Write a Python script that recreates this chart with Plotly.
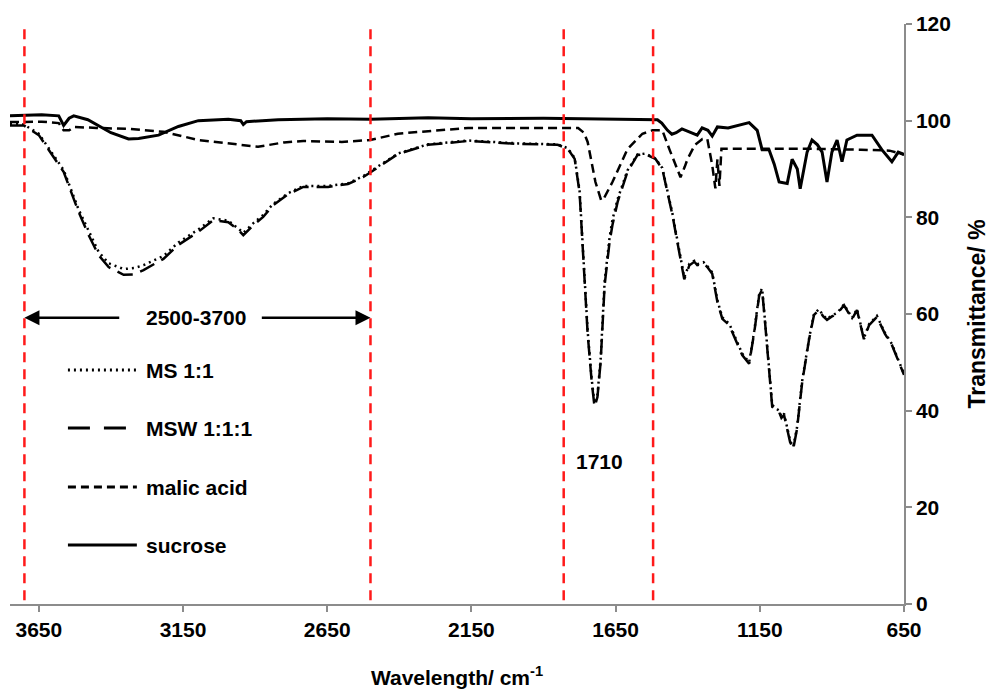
import plotly.graph_objects as go

# ---------------- data ----------------
sucrose_x = [3750, 3640, 3581, 3564, 3545, 3529, 3480, 3443, 3400, 3339, 3304, 3235, 3166, 3097,
             2993, 2950, 2941, 2930, 2820, 2650, 2500, 2300, 2150, 1900, 1600, 1505, 1490, 1470,
             1455, 1440, 1420, 1400, 1385, 1367, 1350, 1330, 1315, 1297, 1260, 1211, 1187, 1159,
             1142, 1118, 1100, 1083, 1055, 1038, 1020, 1010, 986, 969, 950, 934, 917, 900, 882,
             865, 848, 813, 761, 727, 692, 670, 650]
sucrose_y = [101.0, 101.2, 101.0, 99.0, 100.5, 101.0, 100.2, 99.0, 97.5, 96.2, 96.3, 97.0, 98.8, 100.0,
             100.3, 100.0, 99.2, 99.8, 100.2, 100.4, 100.3, 100.6, 100.4, 100.5, 100.3, 100.2, 99.5, 98.0,
             97.2, 97.5, 98.3, 97.8, 97.5, 97.0, 98.5, 98.0, 96.8, 98.7, 98.5, 99.3, 99.6, 98.0,
             94.0, 94.0, 91.0, 87.3, 87.0, 92.0, 90.0, 85.9, 93.5, 96.0, 95.0, 93.5, 87.3, 93.5, 96.0,
             91.5, 96.0, 97.0, 97.0, 94.0, 91.5, 93.5, 93.0]

malic_x = [3750, 3640, 3581, 3564, 3545, 3529, 3450, 3339, 3218, 3097, 2950, 2890, 2800, 2733,
           2600, 2501, 2405, 2300, 2162, 1990, 1780, 1760, 1747, 1720, 1700, 1690, 1661, 1609,
           1557, 1522, 1488, 1463, 1440, 1425, 1410, 1401, 1375, 1349, 1332, 1315, 1304, 1297,
           1290, 1283, 1263, 1000, 800, 700, 650]
malic_y = [99.7, 99.8, 99.5, 98.0, 98.0, 98.7, 98.5, 98.3, 97.7, 96.0, 95.0, 94.6, 95.5, 95.8,
           95.6, 96.0, 97.3, 97.8, 98.5, 98.5, 98.5, 97.5, 95.6, 87.3, 83.5, 84.0, 87.3, 94.1,
           97.3, 98.0, 98.0, 94.0, 90.5, 88.3, 90.5, 92.0, 95.0, 96.2, 96.2, 90.8, 86.0, 92.0,
           86.5, 94.2, 94.2, 94.2, 94.0, 93.8, 93.0]

msw_x = [3750, 3702, 3650, 3616, 3564, 3512, 3477, 3443, 3408, 3356, 3320, 3287, 3218, 3166,
         3097, 3045, 2993, 2960, 2941, 2906, 2872, 2837, 2785, 2733, 2647, 2578, 2526, 2457,
         2405, 2301, 2162, 1989, 1851, 1816, 1792, 1775, 1761, 1747, 1733, 1723, 1713, 1702,
         1688, 1671, 1661, 1643, 1609, 1574, 1547, 1512, 1488, 1470, 1453, 1436, 1412, 1394,
         1377, 1367, 1345, 1332, 1315, 1297, 1280, 1256, 1228, 1211, 1187, 1169, 1152, 1142,
         1131, 1118, 1107, 1095, 1083, 1075, 1066, 1045, 1034, 1021, 1003, 979, 962, 945, 930,
         917, 900, 882, 858, 845, 830, 813, 789, 771, 744, 716, 692, 650]
msw_y = [99.0, 99.0, 97.0, 94.0, 89.4, 81.1, 76.3, 72.2, 69.7, 68.1, 68.2, 69.1, 71.4, 74.3,
         77.0, 79.4, 79.0, 77.5, 76.3, 78.4, 80.1, 82.5, 84.8, 86.3, 86.3, 86.9, 88.3, 91.0,
         93.1, 95.0, 95.8, 95.2, 95.0, 94.2, 92.1, 85.2, 71.4, 56.0, 46.0, 40.8, 42.8, 50.0,
         66.0, 74.9, 78.4, 83.2, 89.4, 92.9, 93.1, 92.1, 90.0, 85.2, 80.5, 74.9, 67.2, 70.1,
         70.8, 70.1, 70.5, 69.7, 68.3, 62.5, 59.0, 57.7, 53.6, 51.5, 49.7, 56.3, 63.9, 65.0,
         57.7, 48.0, 40.8, 40.2, 39.7, 38.5, 39.1, 33.5, 32.1, 36.2, 45.9, 54.8, 59.8, 60.8, 59.5,
         58.8, 59.5, 60.0, 61.8, 60.5, 59.0, 60.8, 54.8, 57.7, 59.4, 55.9, 53.6, 47.4]

ms_x = msw_x
ms_y = [99.3, 99.2, 97.3, 94.3, 89.8, 81.6, 77.0, 72.9, 70.5, 69.3, 69.5, 70.1, 72.0, 74.8,
        77.5, 79.8, 79.3, 77.8, 76.8, 78.8, 80.5, 82.8, 85.0, 86.5, 86.5, 87.0, 88.5, 91.2,
        93.2, 95.1, 95.9, 95.3, 95.1, 94.3, 92.3, 85.6, 72.0, 56.5, 46.5, 41.5, 43.3, 50.6,
        66.8, 75.8, 79.5, 83.8, 89.7, 93.0, 93.2, 92.2, 90.2, 85.5, 80.8, 75.3, 67.6, 70.4,
        71.0, 70.3, 70.7, 69.9, 68.6, 62.8, 59.3, 58.0, 53.9, 51.8, 50.0, 56.6, 64.2, 65.3,
        58.0, 48.3, 41.2, 40.5, 40.0, 38.8, 39.4, 33.8, 32.5, 36.5, 46.2, 55.0, 60.0, 61.0, 59.7,
        59.0, 59.7, 60.2, 62.0, 60.7, 59.2, 61.0, 55.0, 57.9, 59.6, 56.1, 53.8, 47.6]

marker_lines = [3700, 2500, 1830, 1520]
x_ticks = [3650, 3150, 2650, 2150, 1650, 1150, 650]
y_ticks = [0, 20, 40, 60, 80, 100, 120]

legend_names = ["MS 1:1", "MSW 1:1:1", "malic acid", "sucrose"]

# ---------------- figure ----------------
FONT = "Liberation Sans, Arial, sans-serif"

fig = go.Figure()
fig.add_trace(go.Scatter(x=ms_x, y=ms_y, mode="lines", name=legend_names[0],
                         line=dict(color="black", width=2.5, dash="2px,4px")))
fig.add_trace(go.Scatter(x=msw_x, y=msw_y, mode="lines", name=legend_names[1],
                         line=dict(color="black", width=2.5, dash="16px,8px")))
fig.add_trace(go.Scatter(x=malic_x, y=malic_y, mode="lines", name=legend_names[2],
                         line=dict(color="black", width=2.5, dash="9px,5px")))
fig.add_trace(go.Scatter(x=sucrose_x, y=sucrose_y, mode="lines", name=legend_names[3],
                         line=dict(color="black", width=3)))

shapes = []
for xv in marker_lines:
    shapes.append(dict(type="line", xref="x", yref="y", x0=xv, x1=xv, y0=0.8, y1=119.5,
                       line=dict(color="#ff1a1a", width=2.5, dash="10px,7px")))

# manual legend (line samples + labels)
leg_rows = [0.4034, 0.3034, 0.2017, 0.1017]
leg_dash = ["2px,4px", "22px,14px", "8px,5px", "solid"]
annotations = []
for name, yy, dsh in zip(legend_names, leg_rows, leg_dash):
    shapes.append(dict(type="line", xref="paper", yref="paper", x0=0.0648, x1=0.1419,
                       y0=yy, y1=yy, line=dict(color="black", width=3, dash=dsh)))
    annotations.append(dict(xref="paper", yref="paper", x=0.1497, y=yy, text=name,
                            showarrow=False, xanchor="left", yanchor="middle",
                            font=dict(family=FONT, size=21, color="black", weight="bold")))

# 2500-3700 range arrows
annotations.append(dict(xref="x", yref="y", axref="x", ayref="y", x=3700, y=59.2,
                        ax=3366, ay=59.2, text="", showarrow=True, arrowhead=2,
                        arrowsize=1.2, arrowwidth=2.5, arrowcolor="black"))
annotations.append(dict(xref="x", yref="y", axref="x", ayref="y", x=2500, y=59.2,
                        ax=2882, ay=59.2, text="", showarrow=True, arrowhead=2,
                        arrowsize=1.2, arrowwidth=2.5, arrowcolor="black"))
annotations.append(dict(xref="x", yref="y", x=3105, y=59.2, text="2500-3700", showarrow=False,
                        font=dict(family=FONT, size=21, color="black", weight="bold")))
annotations.append(dict(xref="x", yref="y", x=1705, y=29.4, text="1710", showarrow=False,
                        font=dict(family=FONT, size=21, color="black", weight="bold")))

# the page body adds an 8px offset, so the figure is 8px smaller and margins shifted
fig.update_layout(
    width=992, height=684,
    margin=dict(l=2, r=96, t=16, b=88),
    paper_bgcolor="white", plot_bgcolor="white",
    showlegend=False,
    shapes=shapes, annotations=annotations,
    font=dict(family=FONT, color="black"),
)
fig.update_xaxes(
    range=[3750, 650], tickvals=x_ticks, ticktext=[str(v) for v in x_ticks],
    showgrid=False, zeroline=False, showline=True, linecolor="#8c8c8c", linewidth=1.5,
    ticks="outside", ticklen=6, tickcolor="#8c8c8c", tickwidth=1.5,
    tickfont=dict(family=FONT, size=21, color="black", weight="bold"),
    title=dict(text="Wavelength/ cm<sup>-1</sup>", standoff=30,
               font=dict(family=FONT, size=21, color="black", weight="bold")),
)
fig.update_yaxes(
    range=[0, 120], tickvals=y_ticks, side="right",
    showgrid=False, zeroline=False, showline=True, linecolor="#8c8c8c", linewidth=1.5,
    ticks="outside", ticklen=6, tickcolor="#8c8c8c", tickwidth=1.5,
    tickfont=dict(family=FONT, size=21, color="black", weight="bold"),
    title=dict(text="Transmittance/ %", standoff=19,
               font=dict(family=FONT, size=23, color="black", weight="bold")),
)

fig.write_html("out.html")
